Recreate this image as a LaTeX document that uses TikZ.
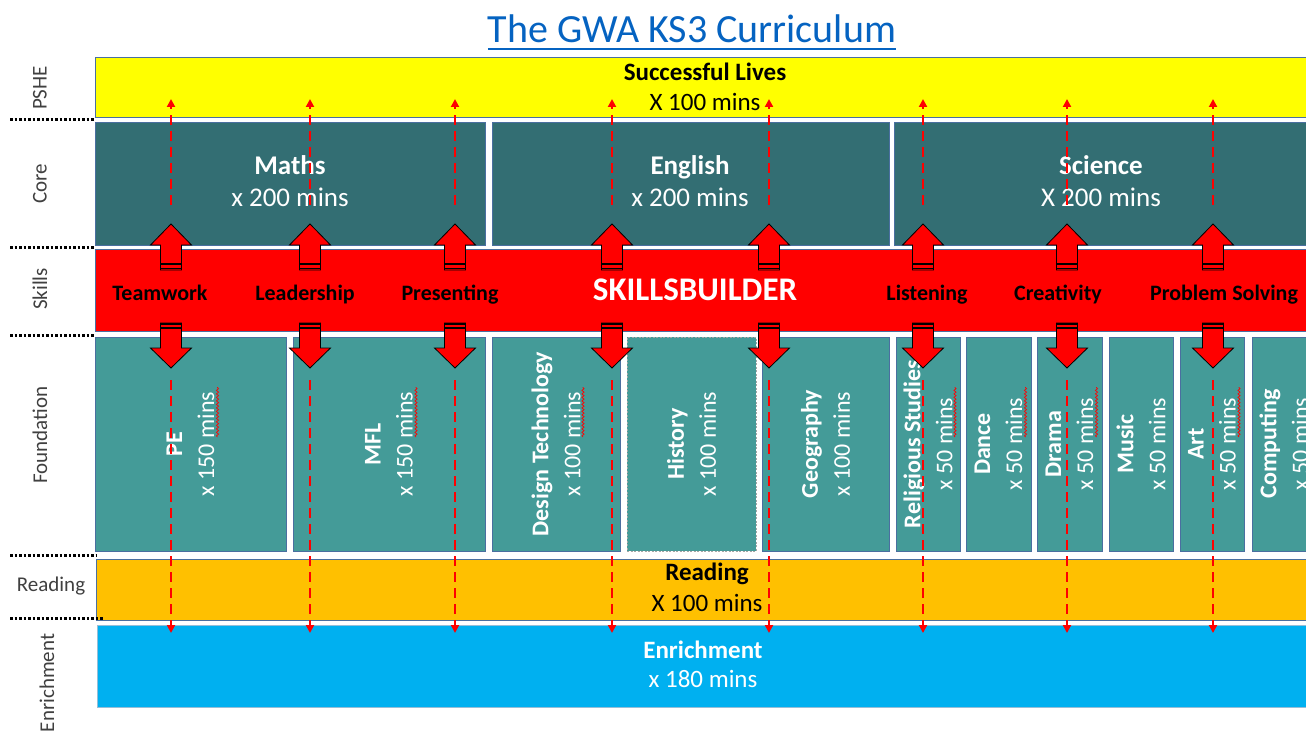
\documentclass[tikz,border=0pt]{standalone}
\usepackage{fontspec}
\setmainfont{Carlito}
\usetikzlibrary{arrows.meta,calc,fit,decorations.pathmorphing}

\definecolor{pshe}{HTML}{FFFF00}
\definecolor{corec}{HTML}{336E73}
\definecolor{foundc}{HTML}{449B98}
\definecolor{skillc}{HTML}{FF0000}
\definecolor{readc}{HTML}{FFC000}
\definecolor{enrichc}{HTML}{00B0F0}
\definecolor{edge}{HTML}{4A6FA0}
\definecolor{lblc}{HTML}{404040}
\definecolor{titleblue}{HTML}{0563C1}

\newcommand\fsz[2]{\fontsize{#1}{#2}\selectfont}

\begin{document}
\begin{tikzpicture}[x=1pt,y=-1pt,
  bandbox/.style={draw=edge,line width=1pt,inner sep=0pt,outer sep=0pt},
  corebox/.style={bandbox,fill=corec},
  coretext/.style={align=center,text=white,font=\fsz{27}{32},inner sep=0pt},
  bandtext/.style={align=center,font=\fsz{25}{30},inner sep=0pt},
  fbox/.style={bandbox,fill=foundc},
  ftext/.style={rotate=90,align=center,text=white,font=\fsz{24}{32},inner sep=0pt},
  lbl/.style={text=lblc,font=\fsz{21}{24},inner sep=0pt},
  skl/.style={font=\bfseries\fsz{22}{24},text=black,inner sep=0pt,anchor=base},
  dotsep/.style={line width=3pt,dash pattern=on 2.5pt off 2pt,black},
  dasharr/.style={draw=skillc,line width=2.4pt,dash pattern=on 10pt off 6pt,
    -{Triangle[length=8pt,width=8pt]}},
  blockarr/.style={fill=skillc,draw=black,line width=0.8pt,line join=miter},
  stripe/.style={black,line width=1.6pt},
  squig/.style={draw=red,line width=0.7pt,decorate,
    decoration={snake,amplitude=1.1pt,segment length=3.5pt}},
  uparr/.pic={
    \draw[blockarr] (-10.5,46) -- (-10.5,21) -- (-20.5,21) -- (0,0)
      -- (20.5,21) -- (10.5,21) -- (10.5,46) -- cycle;
    \draw[stripe] (-10.5,40) -- (10.5,40);
    \draw[stripe] (-10.5,44.5) -- (10.5,44.5);
  },
  dnarr/.pic={
    \draw[blockarr] (-10.5,-45) -- (-10.5,-20) -- (-20.5,-20) -- (0,0)
      -- (20.5,-20) -- (10.5,-20) -- (10.5,-45) -- cycle;
    \draw[stripe] (-10.5,-44) -- (10.5,-44);
    \draw[stripe] (-10.5,-40) -- (10.5,-40);
  }
]
\useasboundingbox (0,0) rectangle (1306,738);
\clip (0,0) rectangle (1306,738);

% title
\node[inner sep=0pt,anchor=base,text=titleblue,font=\fsz{40}{48}] (title) at (692,43)
  {The GWA KS3 Curriculum};
\draw[titleblue,line width=2.2pt] ($(title.base west)+(0,6)$) -- ($(title.base east)+(0,6)$);

% PSHE band
\node[bandbox,fill=pshe,fit={(95,58) (1316,118)}] (pshe) {};
\node[bandtext] (pshet) at (705,87) {\textbf{Successful Lives}\\X 100 mins};

% core subjects
\node[corebox,fit={(95,123) (485,245)}] (maths) {};
\node[corebox,fit={(492,123) (889,245)}] (english) {};
\node[corebox,fit={(894,123) (1308,245)}] (science) {};
\node[coretext] (mathst) at (290,181) {\textbf{Maths}\\x 200 mins};
\node[coretext] (englisht) at (690,181) {\textbf{English}\\x 200 mins};
\node[coretext] (sciencet) at (1101,181) {\textbf{Science}\\X 200 mins};

% skills band
\node[bandbox,fill=skillc,fit={(95,249) (1316,331)}] (skills) {};
\node[inner sep=0pt,anchor=base,text=white,font=\bfseries\fsz{33}{36}] (sb) at (695,300) {SKILLSBUILDER};
\node[skl] (sk1) at (160,300) {Teamwork};
\node[skl] (sk2) at (305,300) {Leadership};
\node[skl] (sk3) at (450,300) {Presenting};
\node[skl] (sk4) at (927,300) {Listening};
\node[skl] (sk5) at (1058,300) {Creativity};
\node[skl] (sk6) at (1224,300) {Problem Solving};

% foundation subjects
\foreach \n/\a/\b in {pe/95/286, mfl/293/485, dt/492/620, geo/762/889,
    rs/896/960, dance/966/1031, drama/1037/1102, music/1109/1173,
    art/1180/1244, comp/1252/1316}
  \node[fbox,fit={(\a,337) (\b,551)}] (\n) {};
\node[fbox,draw=gray!70,dash pattern=on 2pt off 1.5pt,fit={(627,337) (756,551)}] (hist) {};

\foreach \n/\t/\m in {pe/PE/150, mfl/MFL/150, dt/Design Technology/100,
    hist/History/100, geo/Geography/100, rs/Religious Studies/50,
    dance/Dance/50, drama/Drama/50, music/Music/50, art/Art/50,
    comp/Computing/50}
  \node[ftext] at (\n) {\textbf{\t}\\x \m\ mins};

% spell-check underlines
\foreach \n in {pe,mfl,dt,rs,dance,drama,art}
  \draw[squig] ($(\n.center)+(27,-7)$) -- ($(\n.center)+(27,-57)$);

% reading and enrichment bands
\node[bandbox,fill=readc,fit={(96,559) (1316,620)}] (reading) {};
\node[bandtext,font=\fsz{25}{31}] (readingt) at (707,587) {\textbf{Reading}\\X 100 mins};
\node[bandbox,draw={rgb,255:red,150;green,190;blue,215},fill=enrichc,fit={(97,625) (1316,707)}] (enrich) {};
\node[bandtext,text=white,font=\fsz{25}{29}] (enricht) at (703,664) {\textbf{Enrichment}\\x 180 mins};

% row labels
\node[lbl,rotate=90] (lpshe) at (40,88) {PSHE};
\node[lbl,rotate=90] (lcore) at (40,184) {Core};
\node[lbl,rotate=90] (lskills) at (40,289) {Skills};
\node[lbl,rotate=90] (lfound) at (40,435) {Foundation};
\node[lbl] (lread) at (51,586) {Reading};
\node[lbl,rotate=90] (lenrich) at (47,683) {Enrichment};

% row separators
\draw[dotsep] (10,120) -- (94,120);
\draw[dotsep] (10,247) -- (95,247);
\draw[dotsep] (10,335) -- (95,335);
\draw[dotsep] (10,555) -- (97,555);
\draw[dotsep] (10,618) -- (103,618);

% skill links
\foreach \x [count=\i] in {171,310,455,612,769,923,1067,1213} {
  \coordinate (ua\i) at (\x,205);
  \coordinate (ub\i) at (\x,99);
  \coordinate (da\i) at (\x,380);
  \coordinate (db\i) at (\x,633);
  \draw[dasharr] (ua\i) -- (ub\i);
  \draw[dasharr] (da\i) -- (db\i);
  \pic at (\x,224) {uparr};
  \pic at (\x,368) {dnarr};
}
\end{tikzpicture}
\end{document}
